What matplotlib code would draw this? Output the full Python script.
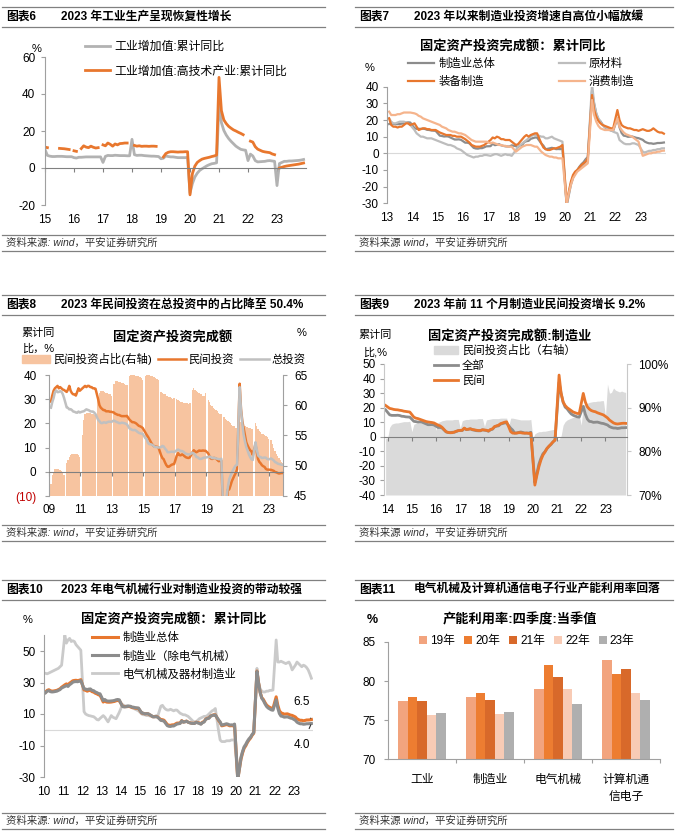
import numpy as np
import matplotlib
matplotlib.use('Agg')
import matplotlib.pyplot as plt
import matplotlib.transforms as mtrans
from matplotlib.lines import Line2D
from matplotlib.patches import Patch

plt.rcParams['font.family'] = ['Liberation Sans', 'Noto Sans CJK SC', 'DejaVu Sans']
plt.rcParams['axes.unicode_minus'] = False

nan = float('nan')

# ---------------- data ----------------
# 图表6  monthly Jan 2015 - Dec 2023
iva_total = [
    10.0, 6.8, 6.4, 6.2, 6.2, 6.3, 6.3, 6.3, 6.2, 6.1, 6.1, 6.1,
    5.6, 5.4, 5.8, 5.8, 5.9, 6.0, 6.0, 6.0, 6.0, 6.0, 6.0, 6.0,
    3.0, 6.3, 6.8, 6.7, 6.7, 6.9, 6.8, 6.7, 6.7, 6.7, 6.6, 6.6,
    15.5, 7.2, 6.8, 6.9, 6.9, 6.7, 6.6, 6.5, 6.4, 6.4, 6.3, 6.2,
    5.0, 5.3, 6.5, 6.2, 6.0, 6.0, 5.8, 5.6, 5.6, 5.6, 5.6, 5.7,
    -13.5, -8.4, -4.9, -2.8, -1.3, -0.4, 0.4, 1.2, 1.8, 2.3, 2.5, 2.8,
    35.1, 24.5, 20.3, 17.8, 15.9, 14.4, 13.1, 11.8, 10.9, 10.1, 9.8, 9.6,
    4.0, 7.5, 6.5, 4.0, 3.3, 3.4, 3.5, 3.6, 3.9, 4.0, 3.8, 3.6,
    -9.5, 2.4, 3.0, 3.6, 3.6, 3.8, 3.8, 3.9, 4.0, 4.1, 4.3, 4.6]
iva_hitech = [
    11.3, 11.0, nan, nan, nan, nan, 10.6, 10.5, 10.4, 10.2, 10.0, nan,
    9.3, 9.0, nan, 10.5, 12.0, 11.3, 11.0, 11.8, 11.2, 10.8, 11.0, nan,
    12.5, 12.0, 13.5, 12.8, 11.8, 13.0, 12.5, 13.2, 13.3, 13.5, 13.5, nan,
    nan, 12.2, 11.8, 12.0, 11.7, 11.8, 11.8, 11.7, 11.8, 11.8, 11.7, nan,
    nan, 6.0, 7.8, 8.5, 8.8, 8.8, 8.7, 8.6, 8.7, 8.7, 8.8, 8.8,
    -14.5, -3.0, 1.0, 3.0, 4.0, 4.8, 5.2, 5.5, 5.8, 6.2, 6.5, 7.0,
    49.0, 31.0, 26.0, 24.0, 22.5, 21.5, 20.6, 20.0, 19.3, 18.7, 18.0, nan,
    nan, 14.5, 14.0, 11.5, 10.2, 9.6, 9.0, 8.7, 8.5, 8.3, 7.6, 7.2,
    nan, 0.0, 0.4, 0.8, 1.1, 1.3, 1.5, 1.7, 1.9, 2.1, 2.4, 2.7]

# manufacturing FAI cumulative yoy, Feb-Dec 2010-2023 (图表7/9/10)
mfg_total = [
    23.9, 25.0, 25.4, 24.8, 24.5, 24.6, 24.8, 25.0, 25.5, 26.0, 27.0,
    28.5, 29.1, 28.5, 29.6, 30.3, 31.1, 31.3, 31.4, 31.2, 31.4, 31.8,
    25.3, 25.0, 24.5, 24.9, 25.0, 24.2, 23.9, 23.2, 22.8, 22.2, 22.0,
    17.6, 18.3, 17.6, 17.5, 17.5, 17.6, 17.8, 18.0, 18.4, 18.6, 18.5,
    15.1, 14.7, 14.7, 14.7, 14.8, 14.6, 14.1, 14.0, 13.7, 13.6, 13.5,
    10.6, 10.4, 10.1, 10.2, 10.1, 9.5, 8.9, 8.3, 8.3, 8.4, 8.1,
    6.4, 6.4, 6.0, 4.6, 3.3, 2.9, 2.8, 3.1, 3.1, 3.6, 4.2,
    4.3, 5.8, 4.9, 5.1, 5.5, 4.8, 4.5, 4.2, 4.1, 4.1, 4.8,
    4.3, 3.8, 4.8, 5.2, 6.8, 7.3, 7.5, 8.7, 9.1, 9.5, 9.5,
    5.9, 4.6, 2.5, 2.7, 3.0, 3.3, 3.0, 2.5, 2.6, 2.5, 3.1,
    -31.5, -25.2, -18.8, -14.8, -11.7, -10.2, -8.1, -6.5, -5.3, -3.5, -2.2,
    37.3, 29.8, 23.8, 20.4, 19.2, 17.3, 15.7, 14.8, 14.2, 13.7, 13.5,
    20.9, 15.6, 12.2, 10.6, 10.4, 9.9, 10.0, 10.1, 9.7, 9.3, 9.1,
    8.1, 7.0, 6.4, 6.0, 6.0, 5.7, 5.9, 6.2, 6.2, 6.3, 6.5]

# 图表7  Feb-Dec 2013-2023
raw_mat = [
    21, 19, 18, 18, 18.5, 19, 19, 19, 18.5, 18, 17,
    14, 12, 11, 10, 10, 9.5, 9, 9, 9, 8.5, 8,
    7, 6.5, 6, 5.5, 5, 5, 4.5, 4, 3, 2.5, 2,
    0, -1, -1.5, -2, -2.5, -2, -2, -1.5, -1.5, -1, -1,
    -1.5, -1, -0.5, -0.5, -1, -1.5, -1, -0.5, -1, -1, -1.5,
    2, 4, 5, 6, 7, 8, 9, 10, 11, 11, 11,
    10, 10, 9, 9, 9.5, 10, 9, 8.5, 8, 7.5, 7,
    -31, -24, -18, -14, -12, -10, -9, -8, -7, -5, -3,
    42, 30, 24, 21, 19, 17, 16, 15, 14, 14, 13,
    12, 8, 7, 6, 5.5, 5.5, 5.5, 6, 6, 5.5, 5,
    1, 0.5, 1, 1.5, 1.5, 2, 2, 2.5, 2.5, 3, 3]
equip = [
    21, 17, 16, 16, 15.5, 16, 16, 17, 18, 18, 17,
    18, 16, 14, 14.5, 15, 15, 14.5, 14.5, 14, 14, 14,
    12.5, 12, 11.5, 11, 11, 11, 10.5, 10.5, 10, 10, 10,
    8.5, 7.5, 6.5, 5, 4.5, 4, 4, 4, 4.5, 5, 6,
    8, 9.5, 9, 10, 9.5, 8.5, 8.5, 8, 8, 8, 7,
    5, 5.5, 7, 8.5, 10, 11, 10, 11, 11.5, 12, 12,
    6, 3.5, 2.5, 2, 2, 2.5, 3, 3, 3.5, 4, 5,
    -30, -23, -17, -13, -11, -10, -8.5, -7, -6, -5, -3,
    35, 26, 22, 19.5, 18, 17, 16.5, 16, 15.5, 15, 15,
    26, 20, 17, 16, 15.5, 15, 15, 14.5, 14, 14, 13.5,
    14.5, 14, 13.5, 13.5, 14, 15, 14, 13, 12.5, 12.5, 11.8]
consumer = [
    25, 23, 23, 23, 23.5, 23.5, 24, 24.5, 24.5, 24.5, 24.5,
    24, 23.5, 22.5, 22, 21, 20.5, 20, 19.5, 19, 18.5, 18,
    17, 16, 15.5, 15, 14, 13.5, 13, 13, 12.5, 12, 12,
    11, 10, 9, 8, 7.5, 7, 7, 7, 7, 7, 7,
    6, 6.5, 6, 5.5, 5, 5, 4.5, 4.5, 4, 4, 4,
    1, 2, 3, 4, 4.5, 5, 5, 5, 4.5, 4, 4,
    1, 0, -1, -1.5, -2, -2, -2.5, -2.5, -3, -3, -3,
    -30, -24, -19, -15, -13, -11, -10, -9, -8, -7, -6,
    32, 23, 19, 16.5, 15, 14.5, 14, 14, 14, 14, 14,
    21, 16, 14, 12.5, 11.5, 11, 10.5, 10, 9, 8, 7,
    -1.5, -1, -0.5, 0, 0, 0.5, 0.5, 1, 1, 1.5, 1.6]

# 图表8  Feb 2009 - Nov 2023
fai_total = [
    26.5, 28.8, 30.5, 32.9, 33.6, 32.9, 33.0, 33.3, 33.1, 32.1, 30.5,
    26.6, 26.4, 25.8, 25.9, 25.5, 24.9, 24.8, 24.5, 24.4, 24.9, 24.5,
    24.9, 25.0, 25.4, 25.8, 25.6, 25.4, 25.0, 24.9, 24.9, 24.5, 23.8,
    21.5, 20.9, 20.2, 20.1, 20.4, 20.4, 20.2, 20.5, 20.7, 20.7, 20.6,
    21.2, 20.9, 20.6, 20.4, 20.1, 20.1, 20.3, 20.2, 20.1, 19.9, 19.6,
    17.9, 17.6, 17.3, 17.2, 17.3, 17.0, 16.5, 16.1, 15.9, 15.8, 15.7,
    13.9, 13.5, 12.0, 11.4, 11.4, 11.2, 10.9, 10.3, 10.2, 10.2, 10.0,
    10.2, 10.7, 10.5, 9.6, 9.0, 8.1, 8.1, 8.2, 8.3, 8.3, 8.1,
    8.9, 9.2, 8.9, 8.6, 8.6, 8.3, 7.8, 7.5, 7.3, 7.2, 7.2,
    7.9, 7.5, 7.0, 6.1, 6.0, 5.5, 5.3, 5.4, 5.7, 5.9, 5.9,
    6.1, 6.3, 6.1, 5.6, 5.8, 5.7, 5.5, 5.4, 5.2, 5.2, 5.4,
    -24.5, -16.1, -10.3, -6.3, -3.1, -1.6, -0.3, 0.8, 1.8, 2.6, 2.9,
    35.0, 25.6, 19.9, 15.4, 12.6, 10.3, 8.9, 7.3, 6.1, 5.2, 4.9,
    12.2, 9.3, 6.8, 6.2, 6.1, 5.7, 5.8, 5.9, 5.8, 5.3, 5.1,
    5.5, 5.1, 4.7, 4.0, 3.8, 3.4, 3.2, 3.1, 2.9, 2.9]
fai_private = [
    29.0, 31.5, 33.5, 34.5, 35.0, 35.5, 34.5, 35.0, 34.5, 34.0, 33.8,
    33.0, 34.0, 35.5, 33.5, 32.5, 32.0, 32.0, 31.5, 33.0, 34.5, 33.5,
    34.5, 35.0, 35.5, 35.0, 35.5, 35.5, 35.0, 35.0, 34.5, 34.5, 34.3,
    30.0, 27.5, 26.5, 26.0, 25.5, 25.5, 25.0, 25.0, 25.0, 24.8, 24.8,
    24.5, 24.0, 23.8, 23.5, 23.5, 23.2, 23.0, 23.0, 23.0, 23.0, 23.1,
    21.5, 21.0, 20.5, 20.5, 20.3, 20.0, 19.5, 19.0, 18.8, 18.5, 18.1,
    16.2, 15.3, 14.5, 13.5, 12.5, 11.5, 10.9, 10.4, 10.4, 10.3, 10.1,
    6.9, 5.7, 5.2, 3.9, 2.8, 2.1, 2.1, 2.5, 2.9, 3.1, 3.2,
    6.7, 7.7, 6.9, 6.8, 7.2, 6.9, 6.4, 6.0, 5.8, 5.7, 6.0,
    8.1, 8.9, 8.4, 8.1, 8.4, 8.8, 8.7, 8.7, 8.8, 8.7, 8.7,
    7.6, 6.4, 5.5, 5.3, 5.7, 5.7, 5.4, 4.9, 4.4, 4.5, 4.7,
    -26.4, -18.8, -13.3, -7.3, -7.3, -5.7, -3.9, -2.7, -1.5, -0.5, 1.0,
    36.4, 26.0, 21.0, 18.1, 15.4, 12.2, 10.9, 9.8, 8.9, 8.4, 7.0,
    11.4, 8.4, 5.3, 4.1, 3.5, 2.7, 2.3, 2.0, 1.2, 0.9, 0.9,
    0.8, 0.6, 0.4, -0.1, -0.2, -0.5, -0.7, -0.6, -0.5, -0.5]
private_share = [
    47.0, 48.5, 49.0, 49.5, 49.5, 49.5, 49.5, 49.3, 49.2, 49.0, 48.5,
    50.5, 51.0, 51.5, 51.8, 52.0, 52.0, 52.0, 52.0, 52.0, 51.8, 51.5,
    55.0, 57.5, 58.5, 58.8, 58.8, 58.8, 58.7, 58.6, 58.5, 58.4, 58.3,
    61.0, 62.0, 62.3, 62.3, 62.3, 62.2, 62.0, 62.0, 61.8, 61.8, 61.5,
    63.5, 64.0, 64.0, 64.0, 63.9, 63.8, 63.7, 63.6, 63.5, 63.4, 63.3,
    64.8, 65.2, 65.2, 65.2, 65.0, 64.9, 64.8, 64.8, 64.6, 64.5, 64.1,
    64.8, 65.2, 65.2, 65.0, 64.9, 64.8, 64.7, 64.6, 64.5, 64.4, 64.2,
    62.2, 62.0, 61.9, 61.8, 61.6, 61.5, 61.4, 61.3, 61.2, 61.0, 61.2,
    61.0, 60.8, 60.7, 60.6, 60.5, 60.4, 60.4, 60.3, 60.3, 60.2, 60.4,
    62.5, 62.8, 62.6, 62.4, 62.2, 62.0, 61.8, 61.8, 61.6, 61.6, 62.0,
    60.8, 60.5, 60.0, 59.8, 59.6, 59.3, 59.2, 59.0, 58.8, 58.6, 58.6,
    58.0, 57.8, 57.6, 57.4, 57.2, 57.0, 56.8, 56.6, 56.5, 56.3, 56.2,
    57.8, 57.2, 56.8, 56.6, 56.6, 56.4, 56.4, 56.3, 56.2, 56.1, 56.0,
    57.0, 56.5, 56.0, 55.8, 55.6, 55.3, 55.2, 55.0, 54.9, 54.8, 54.5,
    54.2, 53.6, 53.0, 52.5, 52.0, 51.6, 51.2, 50.9, 50.6, 50.4]

# 图表9  private manufacturing: Dec 2013, then Feb-Dec 2014 .. Feb-Nov 2023
mfg_private = [21.5,
    19.5, 19.2, 18.8, 18.6, 18.5, 18.2, 18.0, 17.6, 17.4, 17.2, 17.0,
    13.5, 12.8, 12.5, 12.0, 11.5, 11.0, 10.5, 10.2, 10.0, 9.8, 9.5,
    8.0, 7.5, 6.5, 5.0, 3.5, 3.0, 2.8, 2.8, 3.2, 3.8, 4.2,
    4.5, 6.0, 5.0, 5.2, 5.5, 5.0, 4.8, 4.5, 4.3, 4.3, 4.8,
    4.5, 4.0, 5.0, 5.5, 7.0, 7.5, 8.0, 9.0, 9.5, 10.0, 10.3,
    3.5, 2.5, 2.5, 2.5, 2.8, 2.8, 2.5, 2.5, 2.5, 2.3, 2.5,
    -33.2, -26.5, -20.6, -16.0, -12.6, -10.5, -8.0, -6.5, -5.0, -3.5, -2.3,
    42.4, 30.0, 24.0, 21.5, 20.0, 19.0, 18.0, 17.0, 16.5, 16.0, 16.0,
    29.8, 24.0, 20.6, 19.0, 18.0, 17.5, 17.2, 16.5, 16.0, 15.5, 15.0,
    13.0, 11.5, 10.5, 9.5, 9.0, 8.8, 9.0, 9.2, 9.3, 9.2]
# private share of manufacturing investment (%), monthly from Dec 2013
mfg_private_share = [83.0,
    83.0, 85.5, 86.2, 86.4, 86.5, 86.5, 86.6, 86.7, 86.8, 86.8, 86.8, 86.9,
    84.5, 86.2, 86.4, 86.5, 86.5, 86.6, 86.6, 86.6, 86.7, 86.7, 86.8, 86.8,
    84.8, 86.6, 86.8, 87.0, 87.1, 87.2, 87.2, 87.2, 87.2, 87.3, 87.3, 87.3,
    85.3, 87.0, 87.2, 87.3, 87.3, 87.4, 87.4, 87.4, 87.4, 87.5, 87.5, 87.5,
    85.7, 87.2, 87.3, 87.4, 87.5, 87.5, 87.5, 87.5, 87.6, 87.6, 87.6, 87.6,
    85.7, 87.6, 87.6, 87.5, 87.4, 87.3, 87.2, 87.2, 87.2, 87.2, 87.2, 87.3,
    83.0, 84.0, 84.3, 84.5, 84.5, 84.6, 84.6, 84.7, 84.8, 84.9, 85.0, 85.0,
    82.6, 82.8, 83.5, 86.0, 86.8, 87.2, 87.4, 87.6, 87.8, 87.8, 88.0, 88.2,
    86.0, 90.5, 90.8, 91.0, 91.2, 91.3, 91.4, 91.4, 91.5, 91.5, 91.6, 91.6,
    88.0, 95.4, 93.3, 93.5, 94.5, 94.0, 93.8, 93.6, 93.8, 93.6, 93.5]

# 图表10  Feb-Dec 2010-2023
mfg_ex_elec = [
    23.5, 24.5, 24.8, 24.2, 24.0, 24.1, 24.3, 24.5, 25.0, 25.5, 26.5,
    27.5, 28.0, 27.5, 28.6, 29.3, 30.2, 30.5, 30.6, 30.5, 30.8, 31.2,
    26.0, 25.8, 25.5, 25.8, 25.9, 25.0, 24.8, 24.0, 23.6, 23.0, 22.8,
    18.5, 19.2, 18.4, 18.2, 18.2, 18.3, 18.4, 18.6, 19.0, 19.2, 19.0,
    14.8, 14.5, 14.6, 14.8, 15.0, 14.9, 14.4, 14.3, 14.0, 13.9, 13.8,
    10.7, 10.5, 10.1, 10.2, 10.2, 9.6, 9.0, 8.3, 8.2, 8.3, 8.0,
    5.9, 5.8, 5.4, 4.0, 2.6, 2.2, 2.1, 2.4, 2.4, 3.0, 3.6,
    4.0, 5.6, 4.8, 5.0, 5.4, 4.8, 4.4, 4.1, 4.0, 4.0, 4.7,
    4.0, 3.5, 4.5, 4.9, 6.6, 7.1, 7.3, 8.6, 9.0, 9.3, 9.3,
    6.3, 5.0, 2.9, 3.2, 3.5, 3.8, 3.5, 3.0, 3.1, 3.0, 3.6,
    -31.5, -25.0, -18.0, -14.0, -11.0, -9.5, -7.5, -6.0, -4.8, -3.0, -1.8,
    37.0, 29.6, 23.6, 20.0, 18.6, 16.5, 14.8, 13.8, 13.2, 12.6, 12.4,
    19.0, 13.8, 10.3, 8.7, 8.5, 8.0, 8.1, 8.2, 7.8, 7.4, 7.2,
    6.0, 4.8, 4.2, 3.8, 3.8, 3.5, 3.6, 3.8, 3.8, 3.9, 4.0]
elec_mach = [
    35.8, 35.5, 36.0, 36.5, 37.0, 37.5, 38.0, 38.5, 39.0, 40.0, 41.0,
    60.0, 55.0, 57.0, 58.0, 56.0, 56.5, 56.0, 54.0, 52.8, 51.5, 50.5,
    11.5, 10.0, 9.4, 9.0, 8.8, 8.5, 8.3, 7.5, 6.5, 6.2, 7.2,
    9.0, 8.0, 6.5, 5.0, 7.0, 9.0, 8.0, 7.5, 7.0, 9.0, 11.0,
    16.0, 15.5, 15.0, 15.5, 15.0, 14.5, 14.0, 13.5, 13.0, 12.5, 12.0,
    10.0, 9.5, 9.5, 9.0, 9.0, 8.8, 8.5, 8.0, 8.5, 9.0, 8.5,
    15.0, 15.5, 14.0, 13.0, 12.5, 12.5, 13.0, 12.5, 12.0, 12.5, 12.5,
    10.5, 10.0, 9.5, 9.5, 9.0, 8.5, 7.5, 6.5, 5.5, 5.0, 5.0,
    7.0, 7.5, 8.0, 8.5, 8.5, 9.0, 10.0, 11.0, 12.0, 12.5, 13.5,
    -0.5, -6.5, -7.5, -7.5, -7.5, -7.0, -7.0, -7.0, -6.5, -6.5, -6.5,
    -30.0, -22.0, -17.0, -13.5, -10.5, -9.0, -7.0, -5.5, -4.5, -3.0, -1.5,
    39.0, 30.0, 26.0, 24.5, 24.0, 24.0, 24.5, 24.5, 25.0, 25.0, 25.2,
    57.0, 43.0, 43.0, 43.5, 43.0, 42.5, 42.0, 42.5, 43.0, 41.0, 38.0,
    41.0, 43.0, 42.0, 41.0, 40.0, 41.0, 40.5, 39.5, 38.0, 35.5, 32.7]

# 图表11
cu_categories = ['工业', '制造业', '电气机械', '计算机通\n信电子']
cu_years = ['19年', '20年', '21年', '22年', '23年']
cu_values = {
    '19年': [77.5, 78.0, 79.0, 82.7],
    '20年': [78.0, 78.4, 82.1, 80.9],
    '21年': [77.4, 77.6, 80.5, 81.6],
    '22年': [75.7, 75.8, 79.0, 78.5],
    '23年': [75.9, 76.0, 77.1, 77.6],
}

# ---------------- style ----------------
ORANGE = '#E8772E'
GRAY_L = '#BDBDBD'
GRAY_D = '#8C8C8C'
PEACH = '#F5B48C'
BAR_PEACH = '#F7C4A0'
AREA_GRAY = '#DADADA'
AX_C = '#A0A0A0'
RULE_C = '#808080'
CU_COLORS = ['#F2A47E', '#ED7D31', '#D8692A', '#F8CBB5', '#AFAFAF']

W, H = 685, 840
fig = plt.figure(figsize=(W / 100, H / 100), dpi=100)


def add_ax(l, t, r, b):
    return fig.add_axes([l / W, 1 - b / H, (r - l) / W, (b - t) / H])


def ftext(x, y, s, **kw):
    kw.setdefault('va', 'center')
    fig.text(x / W, 1 - y / H, s, **kw)


def hline(x0, x1, y):
    fig.add_artist(Line2D([x0 / W, x1 / W], [1 - y / H, 1 - y / H],
                          color=RULE_C, lw=0.9))


def panel_frame(x0, x1, top, num, title, src_y, colon=True):
    hline(x0, x1, top)
    hline(x0, x1, top + 20)
    ftext(x0 + 4, top + 10, num, fontsize=8.5, weight='bold')
    ftext(x0 + 59, top + 10, title, fontsize=8.5, weight='bold')
    hline(x0, x1, src_y)
    src = '资料来源: wind，平安证券研究所' if colon else '资料来源 wind，平安证券研究所'
    ftext(x0 + 4, src_y + 8, src, fontsize=7.5, style='italic', color='#333333')
    hline(x0, x1, src_y + 16)


def feb_dec(start, n):
    xs = []
    y = start
    while len(xs) < n:
        for m in range(1, 12):
            if len(xs) < n:
                xs.append(y + m / 12)
        y += 1
    return np.array(xs)


def style_y(ax, pad):
    for s in ['top', 'right']:
        ax.spines[s].set_visible(False)
    ax.spines['left'].set_color(AX_C)
    ax.spines['left'].set_linewidth(0.8)
    ax.tick_params(axis='y', length=3, width=0.8, color=AX_C, labelsize=8.5, pad=pad)


def zero_spine(ax):
    ax.spines['bottom'].set_position(('data', 0))
    ax.spines['bottom'].set_color(RULE_C)
    ax.spines['bottom'].set_linewidth(0.8)
    ax.tick_params(axis='x', length=3, width=0.8, color=RULE_C, labelbottom=False)


def no_xaxis(ax):
    ax.spines['bottom'].set_visible(False)
    ax.tick_params(axis='x', length=0, labelbottom=False)


def year_labels(ax, years, ypix):
    tr = mtrans.blended_transform_factory(ax.transData, fig.transFigure)
    for yr in years:
        ax.text(yr, 1 - ypix / H, '%02d' % (yr % 100), transform=tr,
                ha='center', va='center', fontsize=8.5)


def legend_at(ax, handles, x, y, **kw):
    opts = dict(loc='upper left', bbox_to_anchor=(x / W, 1 - y / H),
                bbox_transform=fig.transFigure, frameon=False, fontsize=8.2,
                borderpad=0, borderaxespad=0, handletextpad=0.35)
    opts.update(kw)
    return ax.legend(handles=handles, **opts)


# ---------------- 图表6 ----------------
panel_frame(2, 325, 7, '图表6', '2023 年工业生产呈现恢复性增长', 235)
ax6 = add_ax(45, 57, 306, 205)
x6 = 2015 + np.arange(len(iva_total)) / 12
l6a, = ax6.plot(x6, iva_total, color='#B2B2B2', lw=2.0, label='工业增加值:累计同比')
l6b, = ax6.plot(x6, iva_hitech, color=ORANGE, lw=2.0, label='工业增加值:高技术产业:累计同比')
ax6.set_xlim(2015, 2024)
ax6.set_ylim(-20, 60)
ax6.set_yticks([-20, 0, 20, 40, 60])
style_y(ax6, 4)
zero_spine(ax6)
ax6.set_xticks(range(2015, 2024))
year_labels(ax6, range(2015, 2024), 220)
ftext(37, 49, '%', fontsize=8, ha='center')
legend_at(ax6, [l6a, l6b], 85, 41, fontsize=8.6, handlelength=2.1, labelspacing=1.05)

# ---------------- 图表7 ----------------
panel_frame(355, 673, 7, '图表7', '2023 年以来制造业投资增速自高位小幅放缓', 235, colon=False)
ax7 = add_ax(387, 86.7, 666, 203.3)
xm = feb_dec(2010, len(mfg_total))
m7 = xm >= 2013
x7 = feb_dec(2013, len(raw_mat))
l7a, = ax7.plot(xm[m7], np.array(mfg_total)[m7], color=GRAY_D, lw=1.6, label='制造业总体')
l7b, = ax7.plot(x7, raw_mat, color=GRAY_L, lw=1.6, label='原材料')
l7c, = ax7.plot(x7, equip, color=ORANGE, lw=1.6, label='装备制造')
l7d, = ax7.plot(x7, consumer, color=PEACH, lw=1.6, label='消费制造')
ax7.axhline(0, color='#D9D9D9', lw=0.8, zorder=0)
ax7.set_xlim(2013, 2024)
ax7.set_ylim(-30, 40)
ax7.set_yticks(range(-30, 41, 10))
style_y(ax7, 3)
no_xaxis(ax7)
year_labels(ax7, range(2013, 2024), 218)
ftext(370, 68, '%', fontsize=8, ha='center')
ftext(513, 47, '固定资产投资完成额：累计同比', fontsize=9.5, weight='bold', ha='center')
legend_at(ax7, [l7a, l7c, l7b, l7d], 408, 58, ncol=2, handlelength=2.3,
          columnspacing=5.6, labelspacing=0.55)

# ---------------- 图表8 ----------------
panel_frame(2, 325, 295, '图表8', '2023 年民间投资在总投资中的占比降至 50.4%', 525)
ax8 = add_ax(49, 375, 283, 496)
ax8r = ax8.twinx()
x8 = feb_dec(2009, len(private_share))
ax8r.bar(x8, private_share, width=1 / 12, align='edge', color=BAR_PEACH, lw=0)
ax8r.set_ylim(45, 65)
ax8r.set_yticks([45, 50, 55, 60, 65])
for s in ['top', 'left', 'bottom']:
    ax8r.spines[s].set_visible(False)
ax8r.spines['right'].set_color(AX_C)
ax8r.tick_params(axis='y', length=3, width=0.8, color=AX_C, labelsize=8.5, pad=5)
ax8.set_zorder(ax8r.get_zorder() + 1)
ax8.patch.set_visible(False)
l8a, = ax8.plot(x8 + 1 / 24, fai_private, color=ORANGE, lw=1.8, label='民间投资')
l8b, = ax8.plot(x8 + 1 / 24, fai_total, color='#C0C0C0', lw=1.8, label='总投资')
ax8.set_xlim(2009, 2023.88)
ax8.set_ylim(-10, 40)
ax8.set_yticks(range(-10, 41, 10))
ax8.set_yticklabels(['(10)', '0', '10', '20', '30', '40'])
ax8.get_yticklabels()[0].set_color('#C00000')
style_y(ax8, 6)
zero_spine(ax8)
ax8.set_xticks(range(2009, 2024, 2))
year_labels(ax8, range(2009, 2024, 2), 510)
ftext(38, 333, '累计同', fontsize=8, ha='center')
ftext(38, 349, '比，%', fontsize=8, ha='center')
ftext(302, 333, '%', fontsize=8, ha='center')
ftext(173, 338, '固定资产投资完成额', fontsize=9.5, weight='bold', ha='center')
bar8 = Patch(color=BAR_PEACH, label='民间投资占比(右轴)')
legend_at(ax8, [bar8, l8a, l8b], 22, 353, ncol=3, handlelength=2.5,
          handletextpad=0.2, columnspacing=0.55)

# ---------------- 图表9 ----------------
panel_frame(355, 673, 295, '图表9', '2023 年前 11 个月制造业民间投资增长 9.2%', 525, colon=False)
ax9 = add_ax(384, 364, 627, 495)
ax9r = ax9.twinx()
x9a = 2013 + 11 / 12 + np.arange(len(mfg_private_share)) / 12
ax9r.fill_between(x9a, 70, mfg_private_share, color=AREA_GRAY, lw=0)
ax9r.set_ylim(70, 100)
ax9r.set_yticks([70, 80, 90, 100])
ax9r.set_yticklabels(['70%', '80%', '90%', '100%'])
for s in ['top', 'left', 'bottom']:
    ax9r.spines[s].set_visible(False)
ax9r.spines['right'].set_color('#C8C8C8')
ax9r.tick_params(axis='y', length=3, width=0.8, color='#C8C8C8', labelsize=8.5, pad=5)
ax9.set_zorder(ax9r.get_zorder() + 1)
ax9.patch.set_visible(False)
x9p = np.concatenate([[2013 + 11 / 12], feb_dec(2014, len(mfg_private) - 1)])
m9 = (xm > 2013.9) & (xm <= x9p[-1] + 0.01)
l9a, = ax9.plot(xm[m9], np.array(mfg_total)[m9], color=GRAY_D, lw=2.0, label='全部')
l9b, = ax9.plot(x9p, mfg_private, color=ORANGE, lw=2.0, label='民间')
ax9.set_xlim(2013.85, 2023.89)
ax9.set_ylim(-40, 50)
ax9.set_yticks(range(-40, 51, 10))
style_y(ax9, 3)
ax9.spines['left'].set_color('#C8C8C8')
zero_spine(ax9)
ax9.set_xticks(range(2014, 2024))
year_labels(ax9, range(2014, 2024), 510)
ftext(375, 335, '累计同', fontsize=8, ha='center')
ftext(375, 352, '比,%', fontsize=8, ha='center')
ftext(510, 337, '固定资产投资完成额:制造业', fontsize=9.5, weight='bold', ha='center')
area9 = Patch(color=AREA_GRAY, label='民间投资占比（右轴）')
legend_at(ax9, [area9, l9a, l9b], 434, 345, handlelength=2.1, labelspacing=0.35)

# ---------------- 图表10 ----------------
panel_frame(2, 325, 580, '图表10', '2023 年电气机械行业对制造业投资的带动较强', 813)
ax10 = add_ax(44, 635.25, 313, 777)
l10c, = ax10.plot(xm, elec_mach, color='#CACACA', lw=2.0, label='电气机械及器材制造业')
l10a, = ax10.plot(xm, mfg_total, color=ORANGE, lw=2.2, label='制造业总体')
l10b, = ax10.plot(xm, mfg_ex_elec, color=GRAY_D, lw=2.2, label='制造业（除电气机械）')
ax10.axhline(0, color='#D9D9D9', lw=0.8, zorder=0)
ax10.set_xlim(2010, 2024)
ax10.set_ylim(-30, 60)
ax10.set_yticks([-30, -10, 10, 30, 50])
style_y(ax10, 3)
no_xaxis(ax10)
year_labels(ax10, range(2010, 2024), 792)
ftext(28, 620, '%', fontsize=8, ha='center')
ftext(174, 620, '固定资产投资完成额：累计同比', fontsize=9.5, weight='bold', ha='center')
legend_at(ax10, [l10a, l10b, l10c], 92, 632, handlelength=2.3, labelspacing=0.6)
ax10.annotate('%.1f' % mfg_total[-1], xy=(xm[-1], mfg_total[-1]),
              xytext=(302 / W, 1 - 702 / H), textcoords='figure fraction',
              ha='center', va='center', fontsize=8.5, annotation_clip=False,
              arrowprops=dict(arrowstyle='-', color='#333333', lw=0.8,
                              shrinkA=6, shrinkB=1))
ax10.annotate('%.1f' % mfg_ex_elec[-1], xy=(xm[-1], mfg_ex_elec[-1]),
              xytext=(302 / W, 1 - 745 / H), textcoords='figure fraction',
              ha='center', va='center', fontsize=8.5, annotation_clip=False,
              arrowprops=dict(arrowstyle='-', color='#333333', lw=0.8,
                              shrinkA=6, shrinkB=1))

# ---------------- 图表11 ----------------
panel_frame(355, 673, 580, '图表11', '电气机械及计算机通信电子行业产能利用率回落', 813, colon=False)
ax11 = add_ax(388, 642, 660, 759)
xc = np.arange(len(cu_categories))
bw = 0.14
bars11 = []
for i, yr in enumerate(cu_years):
    b = ax11.bar(xc + (i - 2) * bw, cu_values[yr], width=bw, color=CU_COLORS[i],
                 label=yr, lw=0)
    bars11.append(b)
ax11.set_ylim(70, 85)
ax11.set_yticks([70, 75, 80, 85])
ax11.set_xlim(-0.5, 3.5)
style_y(ax11, 6)
ax11.spines['bottom'].set_color(AX_C)
ax11.set_xticks(xc)
ax11.set_xticklabels(cu_categories, fontsize=8.5, linespacing=1.5, va='top')
ax11.set_xticks([0.5, 1.5, 2.5, 3.5], minor=True)
ax11.tick_params(axis='x', which='major', length=0, pad=11)
ax11.tick_params(axis='x', which='minor', length=3, width=0.8, color=AX_C)
ftext(372, 620, '%', fontsize=9, weight='bold', ha='center')
ftext(520, 620, '产能利用率:四季度:当季值', fontsize=9.5, weight='bold', ha='center')
legend_at(ax11, bars11, 419, 635, ncol=5, fontsize=8.5, handlelength=0.7,
          handleheight=0.7, handletextpad=0.25, columnspacing=0.75)

fig.savefig('out.png', dpi=100)
